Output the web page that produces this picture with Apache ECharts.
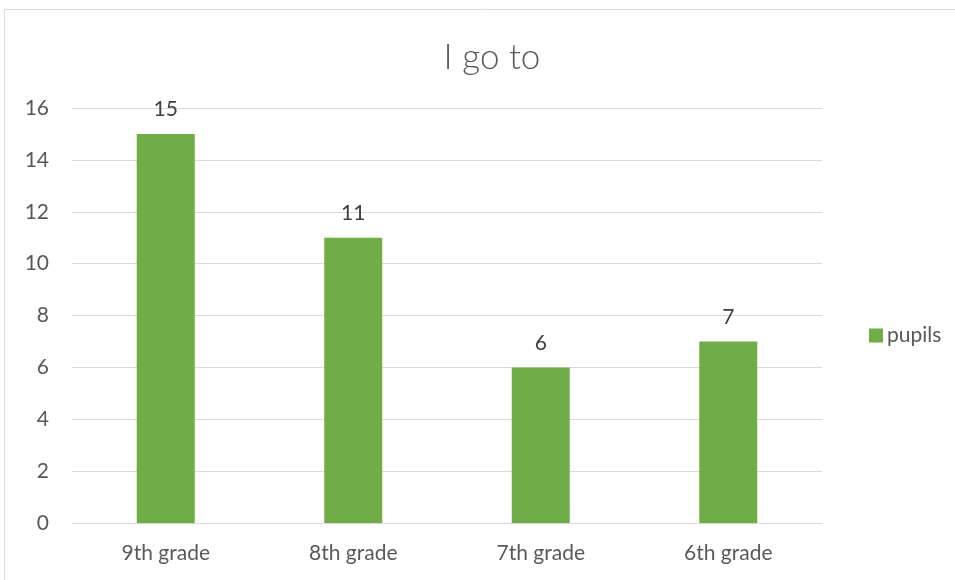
<!DOCTYPE html>
<html><head><meta charset="utf-8">
<script src="https://cdn.jsdelivr.net/npm/echarts@6/dist/echarts.min.js"></script>
<style>html,body{margin:0;padding:0;background:#fff}#c{width:955px;height:580px}</style>
</head><body><div id="c"></div>
<script>
const categories = ['9th grade', '8th grade', '7th grade', '6th grade'];
const pupils = [15, 11, 6, 7];
const yTicks = { min: 0, max: 16, interval: 2 };
const FONT = 'Lato, "Open Sans", sans-serif';
const chart = echarts.init(document.getElementById('c'), null, { renderer: 'canvas' });
chart.setOption({
  animation: false,
  backgroundColor: '#fff',
  graphic: [{
    type: 'rect', shape: { x: 4.5, y: 9.5, width: 1000, height: 1000 },
    style: { fill: 'none', stroke: '#d9d9d9', lineWidth: 1 }, silent: true
  }],
  title: {
    text: 'I go to', left: 487, top: 35, textAlign: 'center',
    textStyle: { fontFamily: FONT, fontWeight: 300, fontSize: 35, color: '#595959' }
  },
  legend: {
    data: ['pupils'], orient: 'vertical', left: 864, top: 320,
    itemWidth: 14, itemHeight: 14, itemGap: 5, icon: 'rect',
    textStyle: { fontFamily: FONT, fontSize: 21, color: '#595959', padding: [0,0,0,-1] }
  },
  grid: { left: 72, right: 133, top: 108, bottom: 57, containLabel: false },
  xAxis: {
    type: 'category', data: categories,
    axisLine: { show: true, lineStyle: { color: '#d9d9d9' } },
    axisTick: { show: false },
    axisLabel: { fontFamily: FONT, fontSize: 21, color: '#595959', margin: 20 }
  },
  yAxis: {
    type: 'value', min: yTicks.min, max: yTicks.max, interval: yTicks.interval,
    axisLine: { show: false }, axisTick: { show: false },
    splitLine: { lineStyle: { color: '#d9d9d9', width: 1 } },
    axisLabel: { fontFamily: FONT, fontSize: 21, color: '#595959', margin: 23 }
  },
  series: [{
    name: 'pupils', type: 'bar', data: pupils, barWidth: 58,
    itemStyle: { color: '#70AD47' },
    label: { show: true, position: 'top', distance: 14, fontFamily: FONT, fontSize: 21, color: '#404040' }
  }]
});
</script></body></html>
